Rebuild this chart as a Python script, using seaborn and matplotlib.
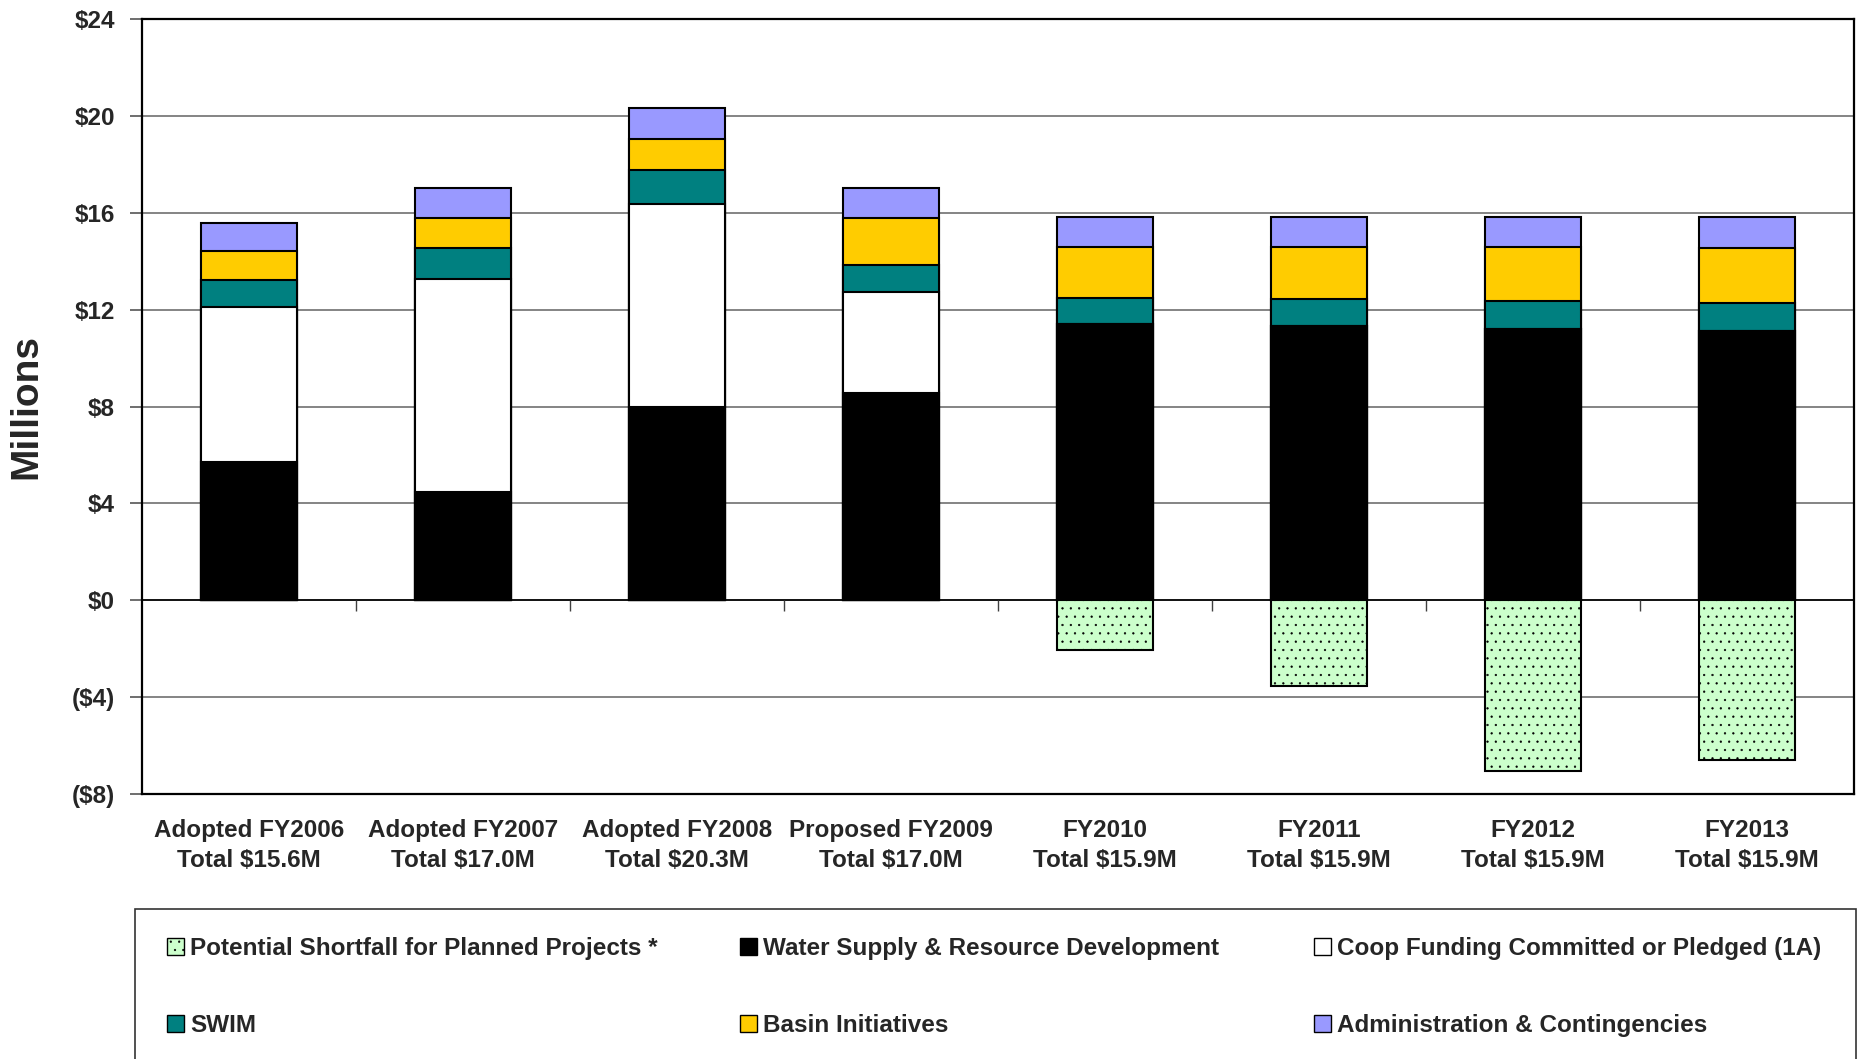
import numpy as np
import matplotlib.pyplot as plt
import pandas as pd
import seaborn as sns
from matplotlib.patches import Patch, Rectangle
from matplotlib.ticker import FuncFormatter, FixedLocator


years = ["Adopted FY2006\nTotal $15.6M", "Adopted FY2007\nTotal $17.0M",
         "Adopted FY2008\nTotal $20.3M", "Proposed FY2009\nTotal $17.0M",
         "FY2010\nTotal $15.9M", "FY2011\nTotal $15.9M",
         "FY2012\nTotal $15.9M", "FY2013\nTotal $15.9M"]

# values in $ millions
water_supply = [5.70, 4.46, 7.98, 8.57, 11.40, 11.32, 11.20, 11.10]
coop_funding = [6.40, 8.81, 8.38, 4.16, 0.0, 0.0, 0.0, 0.0]
swim = [1.12, 1.27, 1.42, 1.13, 1.08, 1.11, 1.14, 1.19]
basin = [1.22, 1.23, 1.27, 1.91, 2.12, 2.17, 2.26, 2.27]
admin = [1.15, 1.27, 1.27, 1.27, 1.23, 1.23, 1.23, 1.27]
shortfall = [0.0, 0.0, 0.0, 0.0, -2.07, -3.53, -7.06, -6.61]

names = ["Water Supply & Resource Development", "Coop Funding Committed or Pledged (1A)",
         "SWIM", "Basin Initiatives", "Administration & Contingencies"]
colors = ["#000000", "#FFFFFF", "#008080", "#FFCC00", "#9999FF"]
short_name = "Potential Shortfall for Planned Projects *"
short_color = "#CCFFCC"

df = pd.DataFrame({"year": years, names[0]: water_supply, names[1]: coop_funding,
                   names[2]: swim, names[3]: basin, names[4]: admin,
                   short_name: shortfall})

sns.set_style("white")
plt.rcParams['font.family'] = ['Liberation Sans', 'DejaVu Sans']
plt.rcParams['font.weight'] = 'bold'
plt.rcParams['hatch.linewidth'] = 0.4
plt.rcParams['hatch.color'] = '#444444'

fig = plt.figure(figsize=(18.6, 10.59), dpi=100)
ax = fig.add_axes([0.0763, 0.2502, 0.9205, 0.7318])

# stacked bars: draw the cumulative totals from the top layer down
cum = df[names].cumsum(axis=1)
for name, col in reversed(list(zip(names, colors))):
    sns.barplot(x=df["year"], y=cum[name], color=col, saturation=1, width=0.45,
                edgecolor="black", linewidth=1.5, ax=ax, zorder=3)

sns.barplot(x=df["year"], y=df[short_name], color=short_color, saturation=1,
            width=0.45, edgecolor="black", linewidth=1.5, hatch="..", ax=ax, zorder=3)

ax.set_ylim(-8, 24)
ax.set_xlim(-0.5, len(years) - 0.5)
ax.yaxis.set_major_locator(FixedLocator(np.arange(-8, 25, 4)))
ax.yaxis.set_major_formatter(FuncFormatter(
    lambda v, p: f"${int(v)}" if v >= 0 else f"(${int(-v)})"))
ax.grid(axis="y", color="#707070", linewidth=1.2, zorder=0)
ax.axhline(0, color="black", linewidth=1.2, zorder=2)
ax.set_axisbelow(True)
for s in ax.spines.values():
    s.set_visible(True)
    s.set_color("black")
    s.set_linewidth(1.6)

ax.tick_params(axis="y", left=True, direction="out", length=9, width=1.2,
               color="#555555", labelsize=17.5, pad=10.5)
ax.tick_params(axis="x", bottom=False, top=False, length=0, labelsize=17.5, pad=18)
for t in ax.get_xticklabels() + ax.get_yticklabels():
    t.set_fontweight("bold")
for t in ax.get_xticklabels():
    t.set_linespacing(1.4)
ax.set_xlabel("")
ax.set_ylabel("Millions", fontsize=28, fontweight="bold")
ax.yaxis.set_label_coords(-0.057, 0.5)

# small category separators hanging from the zero line
ax2 = ax.twiny()
ax2.set_xlim(ax.get_xlim())
ax2.xaxis.set_ticks_position("bottom")
ax2.spines["bottom"].set_position(("data", 0))
for s in ax2.spines.values():
    s.set_visible(False)
ax2.set_xticks(np.arange(0.5, len(years) - 1, 1.0))
ax2.set_xticklabels([])
ax2.tick_params(axis="x", direction="out", length=8, width=1, color="#404040")

# legend frame running off the bottom edge
fig.patches.append(Rectangle((135 / 1860, -0.1), 1721 / 1860, 0.1 + 1 - 909 / 1059,
                             transform=fig.transFigure, facecolor="none",
                             edgecolor="#333333", linewidth=1.2, clip_on=False))

legend_cols = [
    [Patch(facecolor=short_color, edgecolor="black", hatch="..", label=short_name),
     Patch(facecolor=colors[2], edgecolor="black", label=names[2])],
    [Patch(facecolor=colors[0], edgecolor="black", label=names[0]),
     Patch(facecolor=colors[3], edgecolor="black", label=names[3])],
    [Patch(facecolor=colors[1], edgecolor="black", label=names[1]),
     Patch(facecolor=colors[4], edgecolor="black", label=names[4])],
]
col_x = [167 / 1860, 740 / 1860, 1314 / 1860]
for hs, x in zip(legend_cols, col_x):
    fig.legend(handles=hs, loc="center left", bbox_to_anchor=(x, 1 - 987 / 1059),
               frameon=False, prop={"size": 17.5, "weight": "bold"},
               handlelength=0.7, handleheight=0.7, handletextpad=0.25,
               labelspacing=2.2, borderpad=0, borderaxespad=0)

fig.savefig("out.png", dpi=100)
